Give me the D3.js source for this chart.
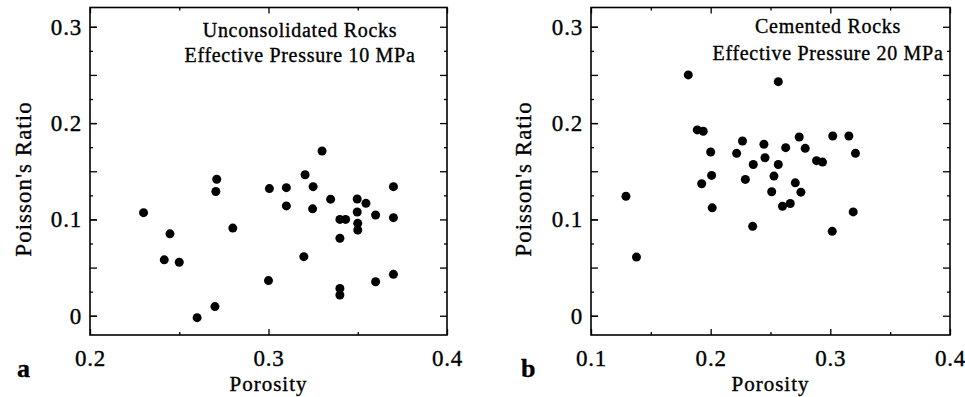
<!DOCTYPE html>
<html>
<head>
<meta charset="utf-8">
<script src="https://cdn.jsdelivr.net/npm/d3@7"></script>
<style>
  body { margin: 0; background: #fff; }
  text { font-family: "Liberation Serif", "Times New Roman", serif; fill: #000; stroke: #000; stroke-width: 0.35px; }
</style>
</head>
<body>
<script>
// data
var unconsPorosity = [0.230, 0.2448, 0.2416, 0.250, 0.260, 0.270, 0.271, 0.2705, 0.280, 0.300,
  0.3005, 0.310, 0.310, 0.3198, 0.3205, 0.325, 0.3247, 0.330, 0.3348, 0.340,
  0.3432, 0.340, 0.340, 0.340, 0.3497, 0.3546, 0.3497, 0.350, 0.350, 0.360,
  0.360, 0.370, 0.370, 0.370];
var unconsPoisson = [0.107, 0.085, 0.058, 0.0555, -0.002, 0.0095, 0.1417, 0.129, 0.091, 0.0365,
  0.132, 0.133, 0.114, 0.0613, 0.1464, 0.134, 0.111, 0.171, 0.121, 0.100,
  0.100, 0.0804, 0.0284, 0.0215, 0.1212, 0.1167, 0.1077, 0.0959, 0.089, 0.1046,
  0.0353, 0.1018, 0.043, 0.134];

var cemPorosity = [0.1292, 0.138, 0.1813, 0.2565, 0.1888, 0.1938, 0.200, 0.2008, 0.1925, 0.2013,
  0.2217, 0.2266, 0.229, 0.2351, 0.2356, 0.2445, 0.2454, 0.2529, 0.251, 0.2565,
  0.2627, 0.260, 0.2665, 0.2707, 0.274, 0.279, 0.2754, 0.2885, 0.2935, 0.302,
  0.3016, 0.3155, 0.321, 0.3191];
var cemPoisson = [0.124, 0.0609, 0.250, 0.243, 0.1929, 0.1915, 0.170, 0.1457, 0.137, 0.112,
  0.1686, 0.1814, 0.1415, 0.0928, 0.157, 0.178, 0.164, 0.145, 0.1287, 0.157,
  0.1745, 0.1137, 0.1165, 0.138, 0.1856, 0.1738, 0.1283, 0.161, 0.1595, 0.1866,
  0.0876, 0.1866, 0.1686, 0.1078];

var unconsXTicks = [0.2, 0.3, 0.4];
var cemXTicks = [0.1, 0.2, 0.3, 0.4];
var yTicks = [0, 0.1, 0.2, 0.3];

var width = 965;
var height = 397;

var svg = d3.select("body").append("svg")
  .attr("width", width)
  .attr("height", height);

// shared y scale for both panels
var yChart = d3.scaleLinear()
  .domain([-0.02, 0.32])
  .range([335, 7.5]);

function panel(opts) {
  var xChart = d3.scaleLinear()
    .domain(opts.xDomain)
    .range(opts.xRange);

  var left = opts.xRange[0], right = opts.xRange[1];
  var top = yChart.range()[1], bottom = yChart.range()[0];
  var g = svg.append("g");

  //tick positions between the labelled ones
  var minorX = d3.range(opts.xDomain[0] + 0.05, opts.xDomain[1], 0.1);
  var majorY = d3.range(0, 0.31, 0.05);
  var minorY = d3.range(0.025, 0.31, 0.05);

  //bottom axis with labels
  g.append("g")
    .attr("class", "xAxis")
    .attr("transform", "translate(0," + bottom + ")")
    .call(d3.axisBottom(xChart).tickValues(opts.xTicks).tickSize(-6).tickPadding(15)
      .tickFormat(d3.format(".1f")));
  g.append("g")
    .attr("transform", "translate(0," + bottom + ")")
    .call(d3.axisBottom(xChart).tickValues(minorX).tickSize(-3).tickFormat(""));
  //top axis
  g.append("g")
    .attr("transform", "translate(0," + top + ")")
    .call(d3.axisTop(xChart).tickValues(opts.xTicks).tickSize(-6).tickFormat(""));
  g.append("g")
    .attr("transform", "translate(0," + top + ")")
    .call(d3.axisTop(xChart).tickValues(minorX).tickSize(-3).tickFormat(""));

  //left axis with labels
  g.append("g")
    .attr("class", "y axis")
    .attr("transform", "translate(" + left + ",0)")
    .call(d3.axisLeft(yChart).tickValues(yTicks).tickSize(-7).tickPadding(8)
      .tickFormat(function(d) { return d === 0 ? "0" : d3.format(".1f")(d); }));
  g.append("g")
    .attr("transform", "translate(" + left + ",0)")
    .call(d3.axisLeft(yChart).tickValues(majorY).tickSize(-7).tickFormat(""));
  g.append("g")
    .attr("transform", "translate(" + left + ",0)")
    .call(d3.axisLeft(yChart).tickValues(minorY).tickSize(-3).tickFormat(""));
  //right axis
  g.append("g")
    .attr("transform", "translate(" + right + ",0)")
    .call(d3.axisRight(yChart).tickValues(majorY).tickSize(-7).tickFormat(""));
  g.append("g")
    .attr("transform", "translate(" + right + ",0)")
    .call(d3.axisRight(yChart).tickValues(minorY).tickSize(-3).tickFormat(""));

  g.selectAll(".domain").remove();
  g.selectAll(".tick line").attr("stroke", "#000").attr("stroke-width", 1.3);
  g.selectAll(".tick text")
    .style("font-family", "'Liberation Serif', serif")
    .style("font-size", "23px")
    .style("letter-spacing", "0.8px")
    .attr("fill", "#000");

  //frame
  g.append("rect")
    .attr("x", left)
    .attr("y", top)
    .attr("width", right - left)
    .attr("height", bottom - top)
    .attr("fill", "none")
    .attr("stroke", "#000")
    .attr("stroke-width", 1.6);

  //points
  g.selectAll(".dot")
    .data(opts.xs)
    .enter()
    .append("circle")
    .attr("class", "dot")
    .attr("cx", function(d) { return xChart(d); })
    .attr("cy", function(d, i) { return yChart(opts.ys[i]); })
    .attr("r", 4.5)
    .attr("fill", "#000");

  //labels
  g.append("text")
    .attr("x", (left + right) / 2)
    .attr("y", 391)
    .attr("text-anchor", "middle")
    .style("font-size", "21px")
    .style("letter-spacing", "1px")
    .text("Porosity");

  g.append("text")
    .attr("transform", "translate(" + opts.yLabelX + ",179) rotate(-90)")
    .attr("text-anchor", "middle")
    .style("font-size", "23px")
    .style("letter-spacing", "1px")
    .text("Poisson's Ratio");

  g.append("text")
    .attr("x", opts.letterX)
    .attr("y", 377)
    .style("font-size", "26px")
    .style("font-weight", "bold")
    .text(opts.letter);

  opts.note.forEach(function(line, i) {
    g.append("text")
      .attr("x", opts.noteX)
      .attr("y", opts.noteY + i * opts.noteGap)
      .attr("text-anchor", "middle")
      .style("font-size", "20px")
      .style("letter-spacing", "0.7px")
      .text(line);
  });
}

panel({
  xDomain: [0.2, 0.4], xRange: [90, 447], xTicks: unconsXTicks,
  xs: unconsPorosity, ys: unconsPoisson,
  yLabelX: 31, letter: "a", letterX: 17,
  note: ["Unconsolidated Rocks", "Effective Pressure 10 MPa"], noteX: 300, noteY: 37, noteGap: 25
});

panel({
  xDomain: [0.1, 0.4], xRange: [591, 950], xTicks: cemXTicks,
  xs: cemPorosity, ys: cemPoisson,
  yLabelX: 531, letter: "b", letterX: 521,
  note: ["Cemented Rocks", "Effective Pressure 20 MPa"], noteX: 828, noteY: 33, noteGap: 27
});
</script>
</body>
</html>
